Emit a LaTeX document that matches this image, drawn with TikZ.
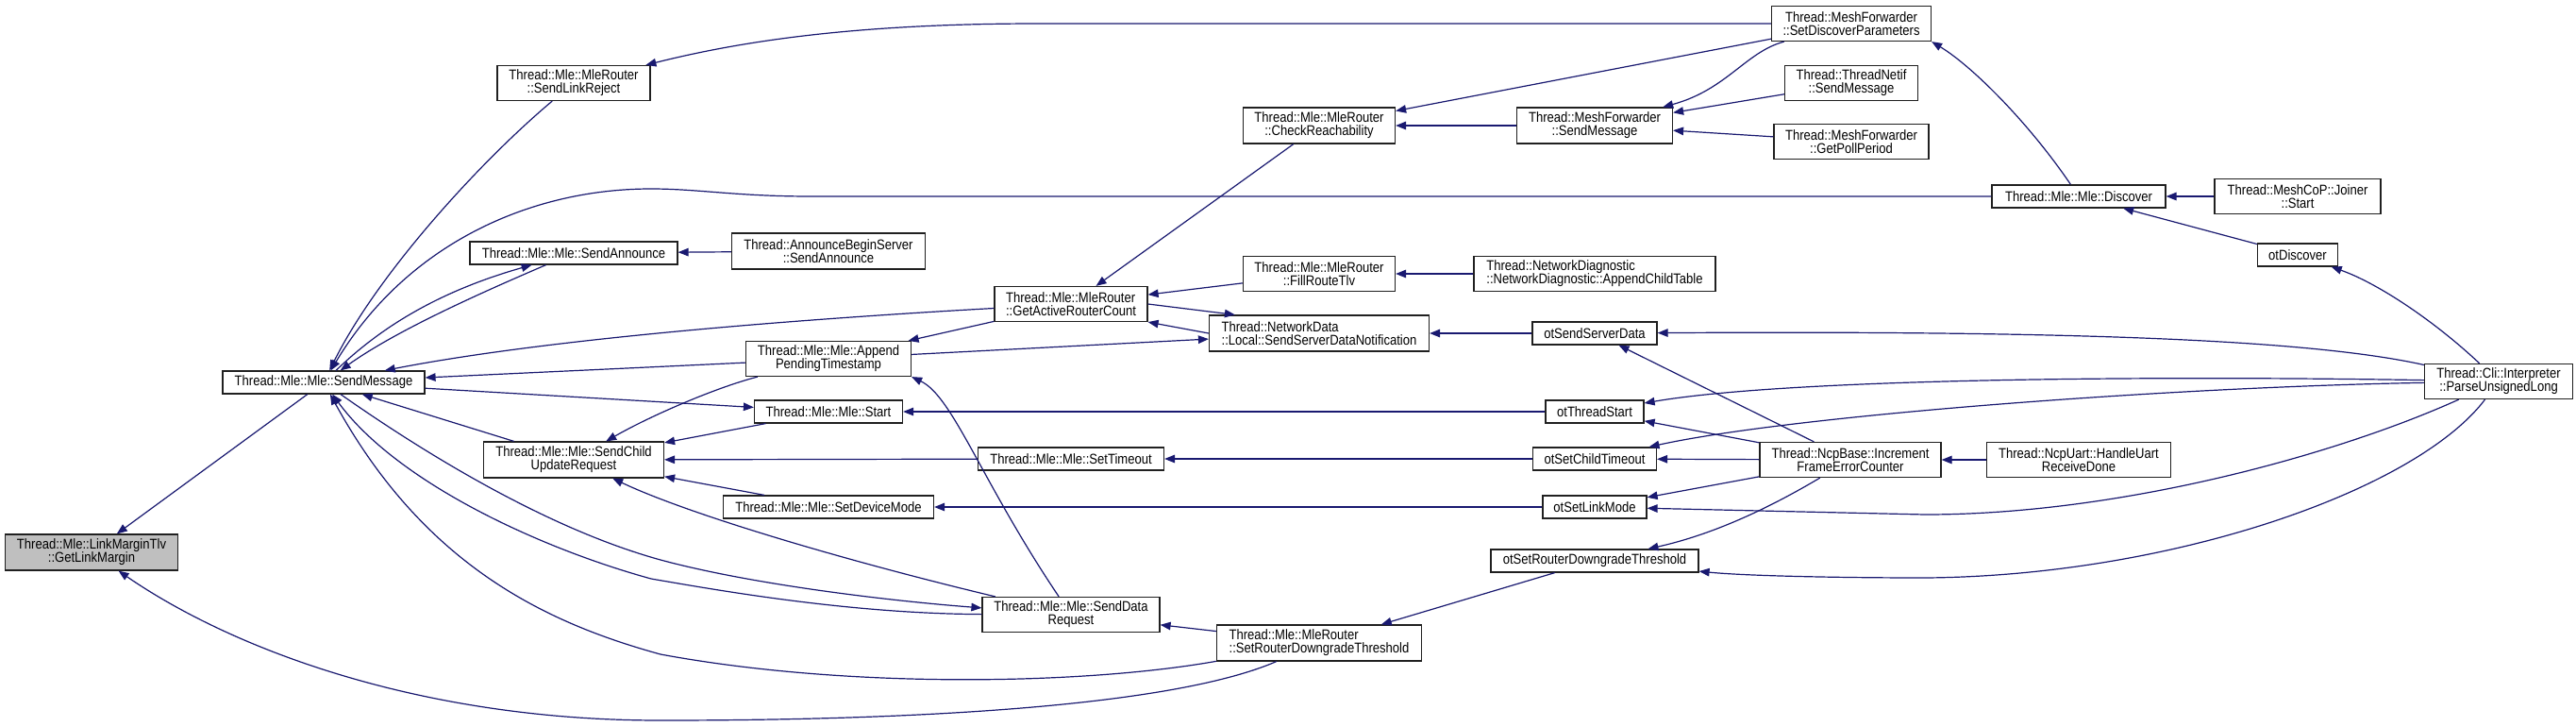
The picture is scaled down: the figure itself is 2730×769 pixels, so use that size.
\documentclass[tikz,border=0pt]{standalone}
\usepackage{fontspec}
\setmainfont{Liberation Sans}[FakeStretch=0.87]
\usetikzlibrary{arrows.meta,calc}
\definecolor{edgec}{HTML}{191970}
\definecolor{rootgray}{HTML}{BFBFBF}
\definecolor{boxc}{HTML}{202020}
\begin{document}
\begin{tikzpicture}[x=1pt,y=-1pt,
  box/.style={draw=boxc,line width=1.2pt,fill=white,inner sep=2pt,align=center,font=\fontsize{15}{14.2}\selectfont},
  lbox/.style={box,align=left},
  root/.style={box,fill=rootgray},
  e/.style={draw=edgec,line width=1.2pt,-{Triangle[length=11pt,width=8.5pt]}},
]
\useasboundingbox[fill=white] (0,0) rectangle (2730,769);
% nodes
\node[root,minimum width=183pt,minimum height=38pt] (glm) at (97,585) {Thread::Mle::LinkMarginTlv\\::GetLinkMargin};
\node[box,minimum width=214pt,minimum height=24pt] (sm) at (343,405) {Thread::Mle::Mle::SendMessage};
\node[box,minimum width=162pt,minimum height=37pt] (slr) at (608,88) {Thread::Mle::MleRouter\\::SendLinkReject};
\node[box,minimum width=220pt,minimum height=24pt] (sa) at (608,268) {Thread::Mle::Mle::SendAnnounce};
\node[box,minimum width=191pt,minimum height=38pt] (scur) at (608,487) {Thread::Mle::Mle::SendChild\\UpdateRequest};
\node[box,minimum width=205pt,minimum height=38pt] (abs) at (878,266) {Thread::AnnounceBeginServer\\::SendAnnounce};
\node[box,minimum width=175pt,minimum height=37pt] (apt) at (878,380) {Thread::Mle::Mle::Append\\PendingTimestamp};
\node[box,minimum width=157pt,minimum height=24pt] (start) at (878,436) {Thread::Mle::Mle::Start};
\node[box,minimum width=223pt,minimum height=24pt] (sdm) at (878,537) {Thread::Mle::Mle::SetDeviceMode};
\node[lbox,minimum width=162pt,minimum height=37pt] (garc) at (1135,322) {Thread::Mle::MleRouter\\::GetActiveRouterCount};
\node[box,minimum width=197pt,minimum height=24pt] (sto) at (1135,486) {Thread::Mle::Mle::SetTimeout};
\node[box,minimum width=188pt,minimum height=37pt] (sdr) at (1135,651) {Thread::Mle::Mle::SendData\\Request};
\node[box,minimum width=161pt,minimum height=38pt] (cr) at (1398,133) {Thread::Mle::MleRouter\\::CheckReachability};
\node[box,minimum width=161pt,minimum height=37pt] (frt) at (1398,290) {Thread::Mle::MleRouter\\::FillRouteTlv};
\node[lbox,minimum width=233pt,minimum height=38pt] (ssdn) at (1398,353) {Thread::NetworkData\\::Local::SendServerDataNotification};
\node[lbox,minimum width=217pt,minimum height=38pt] (srdt) at (1398,681) {Thread::Mle::MleRouter\\::SetRouterDowngradeThreshold};
\node[box,minimum width=165pt,minimum height=38pt] (mfsm) at (1690,133) {Thread::MeshForwarder\\::SendMessage};
\node[lbox,minimum width=256pt,minimum height=37pt] (act) at (1690,290) {Thread::NetworkDiagnostic\\::NetworkDiagnostic::AppendChildTable};
\node[box,minimum width=132pt,minimum height=24pt] (osd) at (1690,353) {otSendServerData};
\node[box,minimum width=104pt,minimum height=24pt] (ots) at (1690,436) {otThreadStart};
\node[box,minimum width=131pt,minimum height=24pt] (osct) at (1690,486) {otSetChildTimeout};
\node[box,minimum width=110pt,minimum height=24pt] (oslm) at (1690,537) {otSetLinkMode};
\node[box,minimum width=220pt,minimum height=24pt] (osrdt) at (1690,594) {otSetRouterDowngradeThreshold};
\node[box,minimum width=169pt,minimum height=37pt] (sdp) at (1962,25) {Thread::MeshForwarder\\::SetDiscoverParameters};
\node[box,minimum width=141pt,minimum height=37pt] (tnsm) at (1962,88) {Thread::ThreadNetif\\::SendMessage};
\node[box,minimum width=164pt,minimum height=37pt] (gpp) at (1962,150) {Thread::MeshForwarder\\::GetPollPeriod};
\node[box,minimum width=192pt,minimum height=37pt] (ifec) at (1961,487) {Thread::NcpBase::Increment\\FrameErrorCounter};
\node[box,minimum width=184pt,minimum height=24pt] (disc) at (2203,208) {Thread::Mle::Mle::Discover};
\node[box,minimum width=195pt,minimum height=37pt] (hurd) at (2203,487) {Thread::NcpUart::HandleUart\\ReceiveDone};
\node[box,minimum width=176pt,minimum height=37pt] (js) at (2435,208) {Thread::MeshCoP::Joiner\\::Start};
\node[box,minimum width=85pt,minimum height=24pt] (otd) at (2435,270) {otDiscover};
\node[box,minimum width=157pt,minimum height=37pt] (pul) at (2648,404) {Thread::Cli::Interpreter\\::ParseUnsignedLong};
% edges (caller -> callee)
\draw[e] (sm) -- (glm);
\draw[e] (srdt) .. controls (1250,745) and (1000,763) .. (700,763) .. controls (450,763) and (250,690) .. (glm);
\draw[e] (slr) .. controls (510,170) and (400,290) .. (sm);
\coordinate (d1) at (860,208);
\coordinate (d2) at (690,200);
\draw[e] (disc) -- (d1) .. controls (780,208) and (740,200) .. (d2) .. controls (560,200) and (430,260) .. (sm);
\draw[e] (sm) .. controls (400,350) and (460,310) .. (sa);
\draw[e] (sa) .. controls (510,310) and (420,350) .. (sm);
\draw[e] (garc) .. controls (900,335) and (600,355) .. (sm);
\draw[e] (apt) -- (sm);
\draw[e] (sm) -- (start);
\draw[e] (scur) -- (sm);
\draw[e] (sm) .. controls (450,480) and (580,560) .. (700,593) .. controls (800,620) and (950,637) .. (sdr);
\draw[e] (sdr) .. controls (900,650) and (760,625) .. (690,613) .. controls (570,580) and (420,510) .. (sm);
\draw[e] (srdt) .. controls (1150,725) and (900,730) .. (700,693) .. controls (580,660) and (450,600) .. (sm);
\draw[e] (sdp) -- (1100,25) .. controls (900,25) and (780,45) .. (slr);
\draw[e] (abs) -- (sa);
\draw[e] (apt) .. controls (760,410) and (690,440) .. (scur);
\draw[e] (start) -- (scur);
\draw[e] (sto) -- (scur);
\draw[e] (sdm) -- (scur);
\draw[e] (sdr) .. controls (900,595) and (730,545) .. (scur);
\draw[e] (garc) -- (apt);
\draw[e] (sdr) .. controls (1040,510) and (1010,420) .. (apt.south east);
\draw[e] (cr) -- (garc);
\draw[e] (frt) -- (garc);
\draw[e] (ssdn.west) -- (garc.south east);
\draw[e] (garc.east) -- ($(ssdn.north west)+(28,0)$);
\draw[e] (apt) -- (ssdn);
\draw[e] (osd) -- (ssdn);
\draw[e] (ots) -- (start);
\draw[e] (osct) -- (sto);
\draw[e] (oslm) -- (sdm);
\draw[e] (srdt) -- (sdr);
\draw[e] (osrdt) -- (srdt);
\draw[e] (sdp) -- (cr);
\draw[e] (mfsm) -- (cr);
\draw[e] (act) -- (frt);
\draw[e] (sdp) .. controls (1850,55) and (1830,95) .. (mfsm);
\draw[e] (tnsm) -- (mfsm);
\draw[e] (gpp) -- (mfsm);
\draw[e] (ifec) -- (osd);
\draw[e] (pul) .. controls (2450,360) and (2200,350) .. (osd);
\draw[e] (pul) .. controls (2300,398) and (1900,400) .. (ots);
\draw[e] (pul) .. controls (2300,410) and (1900,440) .. (osct);
\draw[e] (pul) .. controls (2480,480) and (2250,545) .. (2040,545) -- (oslm);
\draw[e] (pul) .. controls (2560,520) and (2300,610) .. (2040,612) .. controls (1950,612) and (1850,610) .. (osrdt);
\draw[e] (pul) .. controls (2580,340) and (2520,300) .. (otd);
\draw[e] (ifec) -- (ots);
\draw[e] (ifec) -- (osct);
\draw[e] (ifec) -- (oslm);
\draw[e] (ifec) .. controls (1880,535) and (1820,565) .. (osrdt);
\draw[e] (hurd) -- (ifec);
\draw[e] (disc) .. controls (2150,130) and (2090,70) .. (sdp.south east);
\draw[e] (js) -- (disc);
\draw[e] (otd) -- (disc);
\end{tikzpicture}
\end{document}
